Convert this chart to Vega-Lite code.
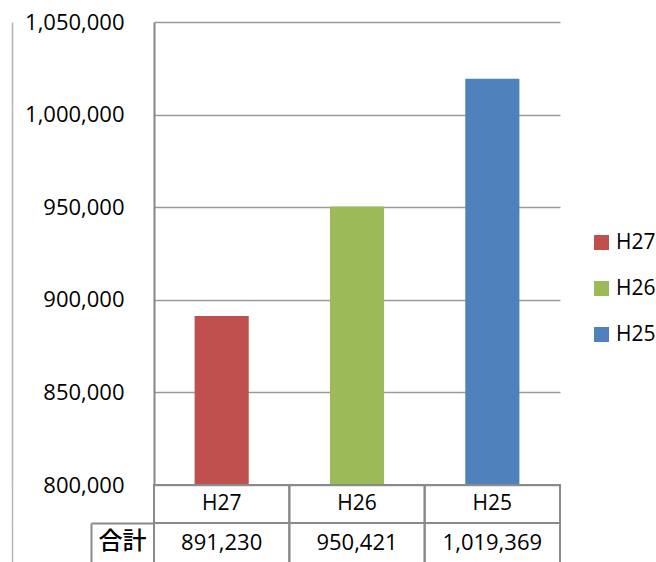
{
  "$schema": "https://vega.github.io/schema/vega-lite/v6.json",
  "background": "white",
  "padding": {"left": 12, "top": 11, "right": 0, "bottom": 0},
  "config": {
    "view": {"stroke": null},
    "font": "Open Sans",
    "concat": {"spacing": 0}
  },
  "datasets": {
    "totals": [
      {"year": "H27", "value": 891230},
      {"year": "H26", "value": 950421},
      {"year": "H25", "value": 1019369}
    ]
  },
  "spacing": 0,
  "bounds": "flush",
  "vconcat": [
    {
      "width": 406,
      "height": 463,
      "data": {"name": "totals"},
      "layer": [
        {
          "mark": {"type": "bar"},
          "encoding": {
            "x": {
              "field": "year", "type": "nominal", "sort": ["H27", "H26", "H25"],
              "scale": {"paddingInner": 0.6, "paddingOuter": 0.3},
              "axis": null
            },
            "y": {
              "field": "value", "type": "quantitative",
              "scale": {"domain": [800000, 1050000], "nice": false, "zero": false},
              "axis": {
                "orient": "left",
                "title": null,
                "values": [800000, 850000, 900000, 950000, 1000000, 1050000],
                "format": ",.0f",
                "labelFont": "Open Sans",
                "labelFontSize": 22,
                "labelColor": "#000000",
                "labelPadding": 30,
                "ticks": false,
                "grid": true,
                "gridColor": "#9a9a9a",
                "gridWidth": 1.5,
                "domain": true,
                "domainColor": "#868686",
                "domainWidth": 2
              }
            },
            "y2": {"datum": 800000},
            "color": {
              "field": "year", "type": "nominal",
              "scale": {"domain": ["H27", "H26", "H25"], "range": ["#C0504D", "#9BBB59", "#4F81BD"]},
              "legend": {
                "title": null,
                "orient": "none",
                "legendX": 437,
                "legendY": 210,
                "symbolType": "square",
                "symbolSize": 225,
                "symbolStrokeWidth": 0,
                "labelFont": "Open Sans",
                "labelFontSize": 21,
                "labelColor": "#000000",
                "rowPadding": 24,
                "labelOffset": 4
              }
            }
          }
        },
        {
          "mark": {"type": "rule", "opacity": 0},
          "encoding": {
            "y": {
              "datum": 0, "type": "quantitative",
              "scale": {"domain": [0, 1]},
              "axis": {
                "orient": "left",
                "title": null, "labels": false, "ticks": false, "grid": false,
                "domain": true, "domainColor": "#b4b4b4", "domainWidth": 1.5,
                "offset": 142
              }
            }
          }
        }
      ],
      "resolve": {"scale": {"y": "independent"}}
    },
    {
      "width": 406,
      "height": 38,
      "data": {"name": "totals"},
      "layer": [
        {
          "mark": {"type": "rect", "fill": null, "stroke": "#8a8a8a", "strokeWidth": 2},
          "encoding": {
            "x": {
              "field": "year", "type": "nominal", "sort": ["H27", "H26", "H25"],
              "scale": {"paddingInner": 0, "paddingOuter": 0},
              "axis": null
            }
          }
        },
        {
          "mark": {"type": "text", "font": "Open Sans", "fontSize": 21, "color": "#000000"},
          "encoding": {
            "x": {"field": "year", "type": "nominal", "sort": ["H27", "H26", "H25"], "axis": null},
            "text": {"field": "year"}
          }
        },
        {
          "mark": {"type": "rule", "opacity": 0},
          "encoding": {
            "y": {
              "datum": 0, "type": "quantitative",
              "scale": {"domain": [0, 1]},
              "axis": {
                "orient": "left",
                "title": null, "labels": false, "ticks": false, "grid": false,
                "domain": true, "domainColor": "#b4b4b4", "domainWidth": 1.5,
                "offset": 142
              }
            }
          }
        }
      ],
      "resolve": {"scale": {"y": "independent"}}
    },
    {
      "width": 406,
      "height": 41,
      "data": {"name": "totals"},
      "layer": [
        {
          "mark": {"type": "rect", "fill": null, "stroke": "#8a8a8a", "strokeWidth": 2},
          "encoding": {
            "x": {
              "field": "year", "type": "nominal", "sort": ["H27", "H26", "H25"],
              "scale": {"paddingInner": 0, "paddingOuter": 0},
              "axis": null
            }
          }
        },
        {
          "mark": {"type": "text", "font": "Open Sans", "fontSize": 22, "color": "#000000", "dy": -1},
          "encoding": {
            "x": {"field": "year", "type": "nominal", "sort": ["H27", "H26", "H25"], "axis": null},
            "text": {"field": "value", "format": ",.0f"}
          }
        },
        {
          "mark": {"type": "rect", "opacity": 0},
          "encoding": {
            "y": {
              "datum": "合計", "type": "nominal",
              "axis": {
                "orient": "left",
                "title": null,
                "offset": 63,
                "ticks": true,
                "tickBand": "extent",
                "tickSize": -63,
                "tickColor": "#8a8a8a",
                "tickWidth": 2,
                "domain": true,
                "domainColor": "#8a8a8a",
                "domainWidth": 2,
                "grid": false,
                "labelPadding": 32,
                "labelAlign": "center",
                "labelBaseline": "middle",
                "labelOffset": -2,
                "labelFont": "Noto Sans CJK JP",
                "labelFontSize": 24,
                "labelFontWeight": 500,
                "labelColor": "#000000"
              }
            }
          }
        },
        {
          "mark": {"type": "rule", "opacity": 0},
          "encoding": {
            "y": {
              "datum": 0, "type": "quantitative",
              "scale": {"domain": [0, 1]},
              "axis": {
                "orient": "left",
                "title": null, "labels": false, "ticks": false, "grid": false,
                "domain": true, "domainColor": "#b4b4b4", "domainWidth": 1.5,
                "offset": 142
              }
            }
          }
        }
      ],
      "resolve": {"scale": {"y": "independent"}}
    }
  ],
  "resolve": {"scale": {"x": "independent", "y": "independent"}}
}
